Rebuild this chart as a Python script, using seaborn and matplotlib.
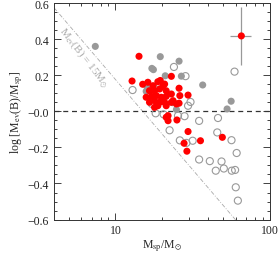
import numpy as np
import pandas as pd
import matplotlib
matplotlib.use("Agg")
import matplotlib.pyplot as plt
import seaborn as sns
from matplotlib.ticker import FixedLocator, NullFormatter

sns.set_style("ticks")
plt.rcParams['font.family'] = ['Liberation Serif', 'DejaVu Serif']
plt.rcParams['mathtext.fontset'] = 'stix'

# gray filled points
gray_msp = [7.4, 19.5, 25.8, 17.2, 17.6, 21.0, 26.7, 36.7, 56.1, 52.8, 24.8, 23.4, 15.8, 16.0]
gray_ratio = [0.36, 0.303, 0.278, 0.238, 0.231, 0.197, 0.195, 0.146, 0.056, 0.013, 0.010, 0.048, 0.111, 0.136]

# red filled points
red_msp = [14.2, 12.8, 23.0, 19.5, 15.0, 16.2, 17.5, 18.8, 20.3, 16.6, 17.9, 19.3, 21.3,
           15.8, 17.1, 18.4, 19.8, 21.3, 23.0, 16.6, 17.9, 19.3, 20.8, 23.0, 17.9, 25.8,
           26.1, 29.5, 23.6, 24.8, 25.8, 21.3, 18.8, 21.3, 21.9, 25.0, 29.5, 35.5, 49.2,
           27.8, 29.0, 21.9, 20.8]
red_ratio = [0.305, 0.168, 0.194, 0.171, 0.150, 0.161, 0.142, 0.164, 0.142, 0.114, 0.114, 0.124, 0.114,
             0.078, 0.083, 0.087, 0.078, 0.083, 0.096, 0.050, 0.059, 0.050, 0.050, 0.050, 0.022, 0.128,
             0.087, 0.090, 0.059, 0.041, 0.045, 0.031, 0.031, -0.033, -0.052, -0.048, -0.112, -0.163, -0.144,
             -0.177, -0.221, -0.024, 0.151]

# open circles
open_msp = [12.9, 23.9, 28.4, 59.0, 30.6, 29.5, 19.3, 17.2, 18.2, 20.5, 25.4, 28.0, 34.8, 46.1,
            22.4, 26.1, 28.8, 31.6, 45.6, 56.4, 60.9, 34.8, 40.8, 44.6, 48.6, 50.3, 56.6, 59.5,
            60.1, 62.0]
open_ratio = [0.118, 0.246, 0.195, 0.220, 0.052, 0.031, 0.135, 0.041, -0.011, -0.017, -0.024, -0.027,
              -0.053, -0.037, -0.105, -0.161, -0.175, -0.163, -0.117, -0.160, -0.231, -0.267, -0.276,
              -0.329, -0.278, -0.317, -0.329, -0.325, -0.421, -0.495]

# typical error point
err_msp = [65.3]
err_ratio = [0.418]
err_x = [10.0]
err_y = [0.16]

# limiting line M_ev(B) = 15 M_sun
line_msp = [4.0, 100.0]
line_ratio = [np.log10(15 / m) for m in line_msp]

fig = plt.figure(figsize=(2.8, 2.55), dpi=100)
ax = fig.add_axes([0.193, 0.135, 0.771, 0.849])

gray_df = pd.DataFrame({'msp': gray_msp, 'ratio': gray_ratio})
red_df = pd.DataFrame({'msp': red_msp, 'ratio': red_ratio})
open_df = pd.DataFrame({'msp': open_msp, 'ratio': open_ratio})

ax.plot(line_msp, line_ratio, color='#aaaaaa', lw=0.6, ls=(0, (5, 2, 1, 2)), zorder=1)
ax.axhline(0, color='#333333', lw=0.9, ls=(0, (4, 3)), zorder=1)

sns.scatterplot(data=open_df, x='msp', y='ratio', ax=ax, s=26, facecolor='none',
                edgecolor='#999999', linewidth=0.8, zorder=2)
sns.scatterplot(data=gray_df, x='msp', y='ratio', ax=ax, s=26, color='#999999',
                edgecolor='none', zorder=3)
sns.scatterplot(data=red_df, x='msp', y='ratio', ax=ax, s=26, color='#ff0000',
                edgecolor='none', zorder=4)
ax.errorbar(err_msp, err_ratio, xerr=err_x, yerr=err_y, fmt='none', ecolor='#999999',
            elinewidth=0.9, capsize=0, zorder=4)
sns.scatterplot(x=err_msp, y=err_ratio, ax=ax, s=26, color='#ff0000', edgecolor='none', zorder=5)

ax.set_xscale('log')
ax.set_xlim(4, 100)
ax.set_ylim(-0.6, 0.6)
ax.set_xticks([10, 100])
ax.set_xticklabels(['10', '100'])
ax.xaxis.set_minor_locator(FixedLocator([5, 6, 7, 8, 9, 20, 30, 40, 50, 60, 70, 80, 90]))
ax.xaxis.set_minor_formatter(NullFormatter())
yt = [-0.6, -0.4, -0.2, 0.0, 0.2, 0.4, 0.6]
ax.set_yticks(yt)
ax.set_yticklabels(['\u22120.6', '\u22120.4', '\u22120.2', '\u22120.0', '0.2', '0.4', '0.6'])
ax.yaxis.set_minor_locator(FixedLocator(np.arange(-0.6, 0.61, 0.05)))

ax.tick_params(which='both', direction='in', top=True, right=True, labelsize=8.5, width=0.6,
               colors='#222222')
ax.tick_params(which='major', length=5)
ax.tick_params(which='minor', length=2.5)
for sp in ax.spines.values():
    sp.set_linewidth(0.7)
    sp.set_color('#333333')

ax.set_xlabel(r'M$_{\rm sp}$/M$_{\odot}$', fontsize=8.5, labelpad=1)
ax.set_ylabel(r'log [M$_{\rm ev}$(B)/M$_{\rm sp}$]', fontsize=8.5, labelpad=2)
ax.text(6.2, 0.30, r'M$_{\rm ev}$(B) = 15M$_{\odot}$', color='#aaaaaa', fontsize=8,
        rotation=-52, ha='center', va='center', rotation_mode='anchor')

fig.savefig('out.png', dpi=100)
